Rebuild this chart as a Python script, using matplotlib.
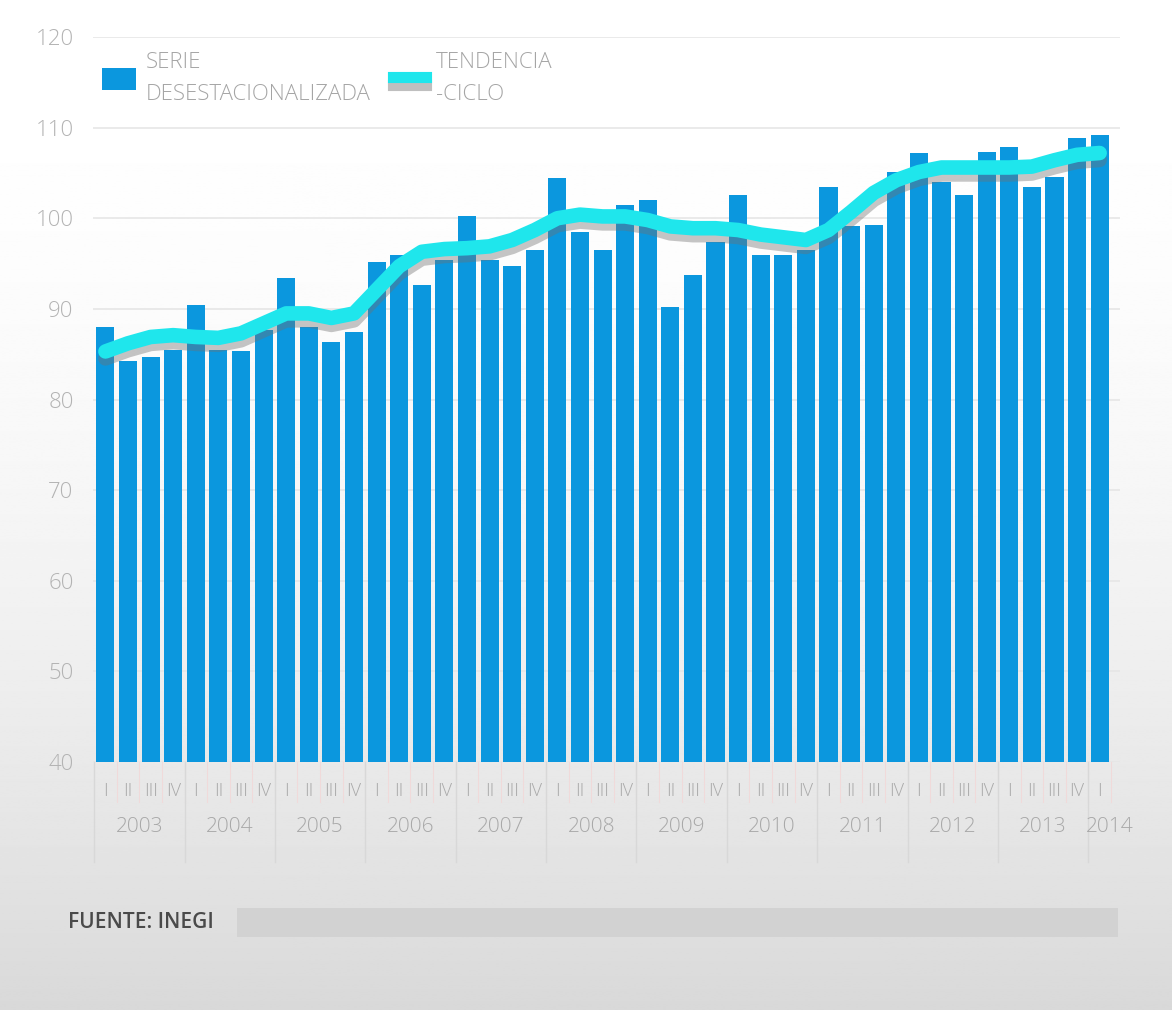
import numpy as np
import matplotlib
matplotlib.use("Agg")
import matplotlib.pyplot as plt
import matplotlib.patheffects as pe
from matplotlib.patches import Patch, Rectangle
from matplotlib.lines import Line2D
import matplotlib.transforms as mtransforms

plt.rcParams['font.family'] = ['Open Sans', 'DejaVu Sans']
plt.rcParams['font.weight'] = 'light'

years = ['2003', '2004', '2005', '2006', '2007', '2008', '2009',
         '2010', '2011', '2012', '2013', '2014']
quarters = ['I', 'II', 'III', 'IV']

# serie desestacionalizada, 2003-I .. 2014-I
serie = [88.0, 84.2, 84.7, 85.5,
         90.4, 85.5, 85.3, 87.7,
         93.4, 88.0, 86.3, 87.5,
         95.2, 96.0, 92.6, 95.4,
         100.2, 95.4, 94.7, 96.5,
         104.4, 98.5, 96.5, 101.5,
         102.0, 90.2, 93.7, 97.4,
         102.6, 96.0, 96.0, 96.5,
         103.4, 99.1, 99.3, 105.1,
         107.2, 104.0, 102.6, 107.3,
         107.9, 103.5, 104.6, 108.9,
         109.2]

# tendencia-ciclo
tendencia = [85.3, 86.2, 86.9, 87.1,
             86.9, 86.8, 87.3, 88.4,
             89.5, 89.5, 89.0, 89.5,
             92.1, 94.7, 96.3, 96.6,
             96.7, 96.9, 97.6, 98.7,
             100.0, 100.4, 100.2, 100.2,
             99.8, 99.1, 98.9, 98.9,
             98.7, 98.2, 97.9, 97.6,
             98.7, 100.7, 102.8, 104.2,
             105.1, 105.6, 105.6, 105.6,
             105.6, 105.7, 106.4, 107.0,
             107.2]

yticks = [40, 50, 60, 70, 80, 90, 100, 110, 120]

W, H = 1172, 1010
fig = plt.figure(figsize=(W / 100, H / 100), dpi=100)

# fondo degradado
bg = fig.add_axes([0, 0, 1, 1], zorder=-10)
t = np.linspace(0, 1, 400)[:, None]
shade = 1 - 0.15 * t ** 2
bg.imshow(np.repeat(shade, 2, axis=1), cmap='gray', vmin=0, vmax=1,
          aspect='auto', extent=[0, 1, 0, 1])
bg.set_axis_off()

left, right = 93 / W, 1120 / W
bottom, top = 1 - 762 / H, 1 - 37 / H
ax = fig.add_axes([left, bottom, right - left, top - bottom])
ax.set_facecolor('none')

x = np.arange(len(serie))
ax.bar(x, np.array(serie) - 40, bottom=40, width=0.8, color='#0b97de', zorder=2)

ax.plot(x, tendencia, color='#1fe6ec', lw=10.5, solid_capstyle='round',
        solid_joinstyle='round', zorder=3,
        path_effects=[pe.SimpleLineShadow(offset=(0, -5), shadow_color='#707070', alpha=0.4),
                      pe.Normal()])

ax.set_xlim(-0.55, 44.9)
ax.set_ylim(40, 120)
ax.set_yticks(yticks)
ax.set_yticklabels([str(v) for v in yticks], color='#b3b3b3', fontsize=16)
ax.tick_params(axis='y', length=0, pad=14)
ax.set_xticks([])
ax.grid(axis='y', color='#e6e6e6', lw=1.2, zorder=0)
for s in ax.spines.values():
    s.set_visible(False)

# etiquetas de trimestre y año
trans = mtransforms.blended_transform_factory(ax.transData, ax.transAxes)
for i in range(len(serie)):
    ax.text(i, -0.04, quarters[i % 4], transform=trans, ha='center', va='center',
            fontsize=13, color='#a8a8a8', clip_on=False)
    ax.plot([i + 0.5, i + 0.5], [0, -0.055], transform=trans, color='#f0dada',
            lw=0.8, clip_on=False)
for k, yr in enumerate(years):
    xc = 4 * k + 1.5 if k < len(years) - 1 else 44.45
    ax.text(xc, -0.09, yr, transform=trans, ha='center', va='center',
            fontsize=15, color='#a8a8a8', clip_on=False)
    ax.plot([4 * k - 0.5, 4 * k - 0.5], [0, -0.138], transform=trans,
            color='#d8d8d8', lw=1, clip_on=False)

handles = [Patch(facecolor='#0b97de'),
           Line2D([], [], color='#1fe6ec', lw=8,
                  path_effects=[pe.SimpleLineShadow(offset=(0, -6), shadow_color='#808080', alpha=0.5),
                                pe.Normal()])]
leg = ax.legend(handles, ['SERIE\nDESESTACIONALIZADA', 'TENDENCIA\n-CICLO'],
                loc='upper left', bbox_to_anchor=(0.009, 0.98), ncol=2, frameon=False,
                prop={'size': 16, 'weight': 'light'}, labelcolor='#a5a5a5',
                handlelength=1.5, handleheight=1.15, borderpad=0,
                handletextpad=0.45, columnspacing=1.0, borderaxespad=0)
for txt in leg.get_texts():
    txt.set_linespacing(1.7)

# fuente
fig.text(68 / W, 1 - 922 / H, 'FUENTE: INEGI', fontsize=15, color='#4a4a4a',
         ha='left', va='center', weight='semibold')
fig.patches.append(Rectangle((237 / W, 1 - 937 / H), (1118 - 237) / W, 29 / H,
                             transform=fig.transFigure, facecolor='#d2d2d2',
                             edgecolor='none', zorder=1))

fig.savefig('out.png', dpi=100)
